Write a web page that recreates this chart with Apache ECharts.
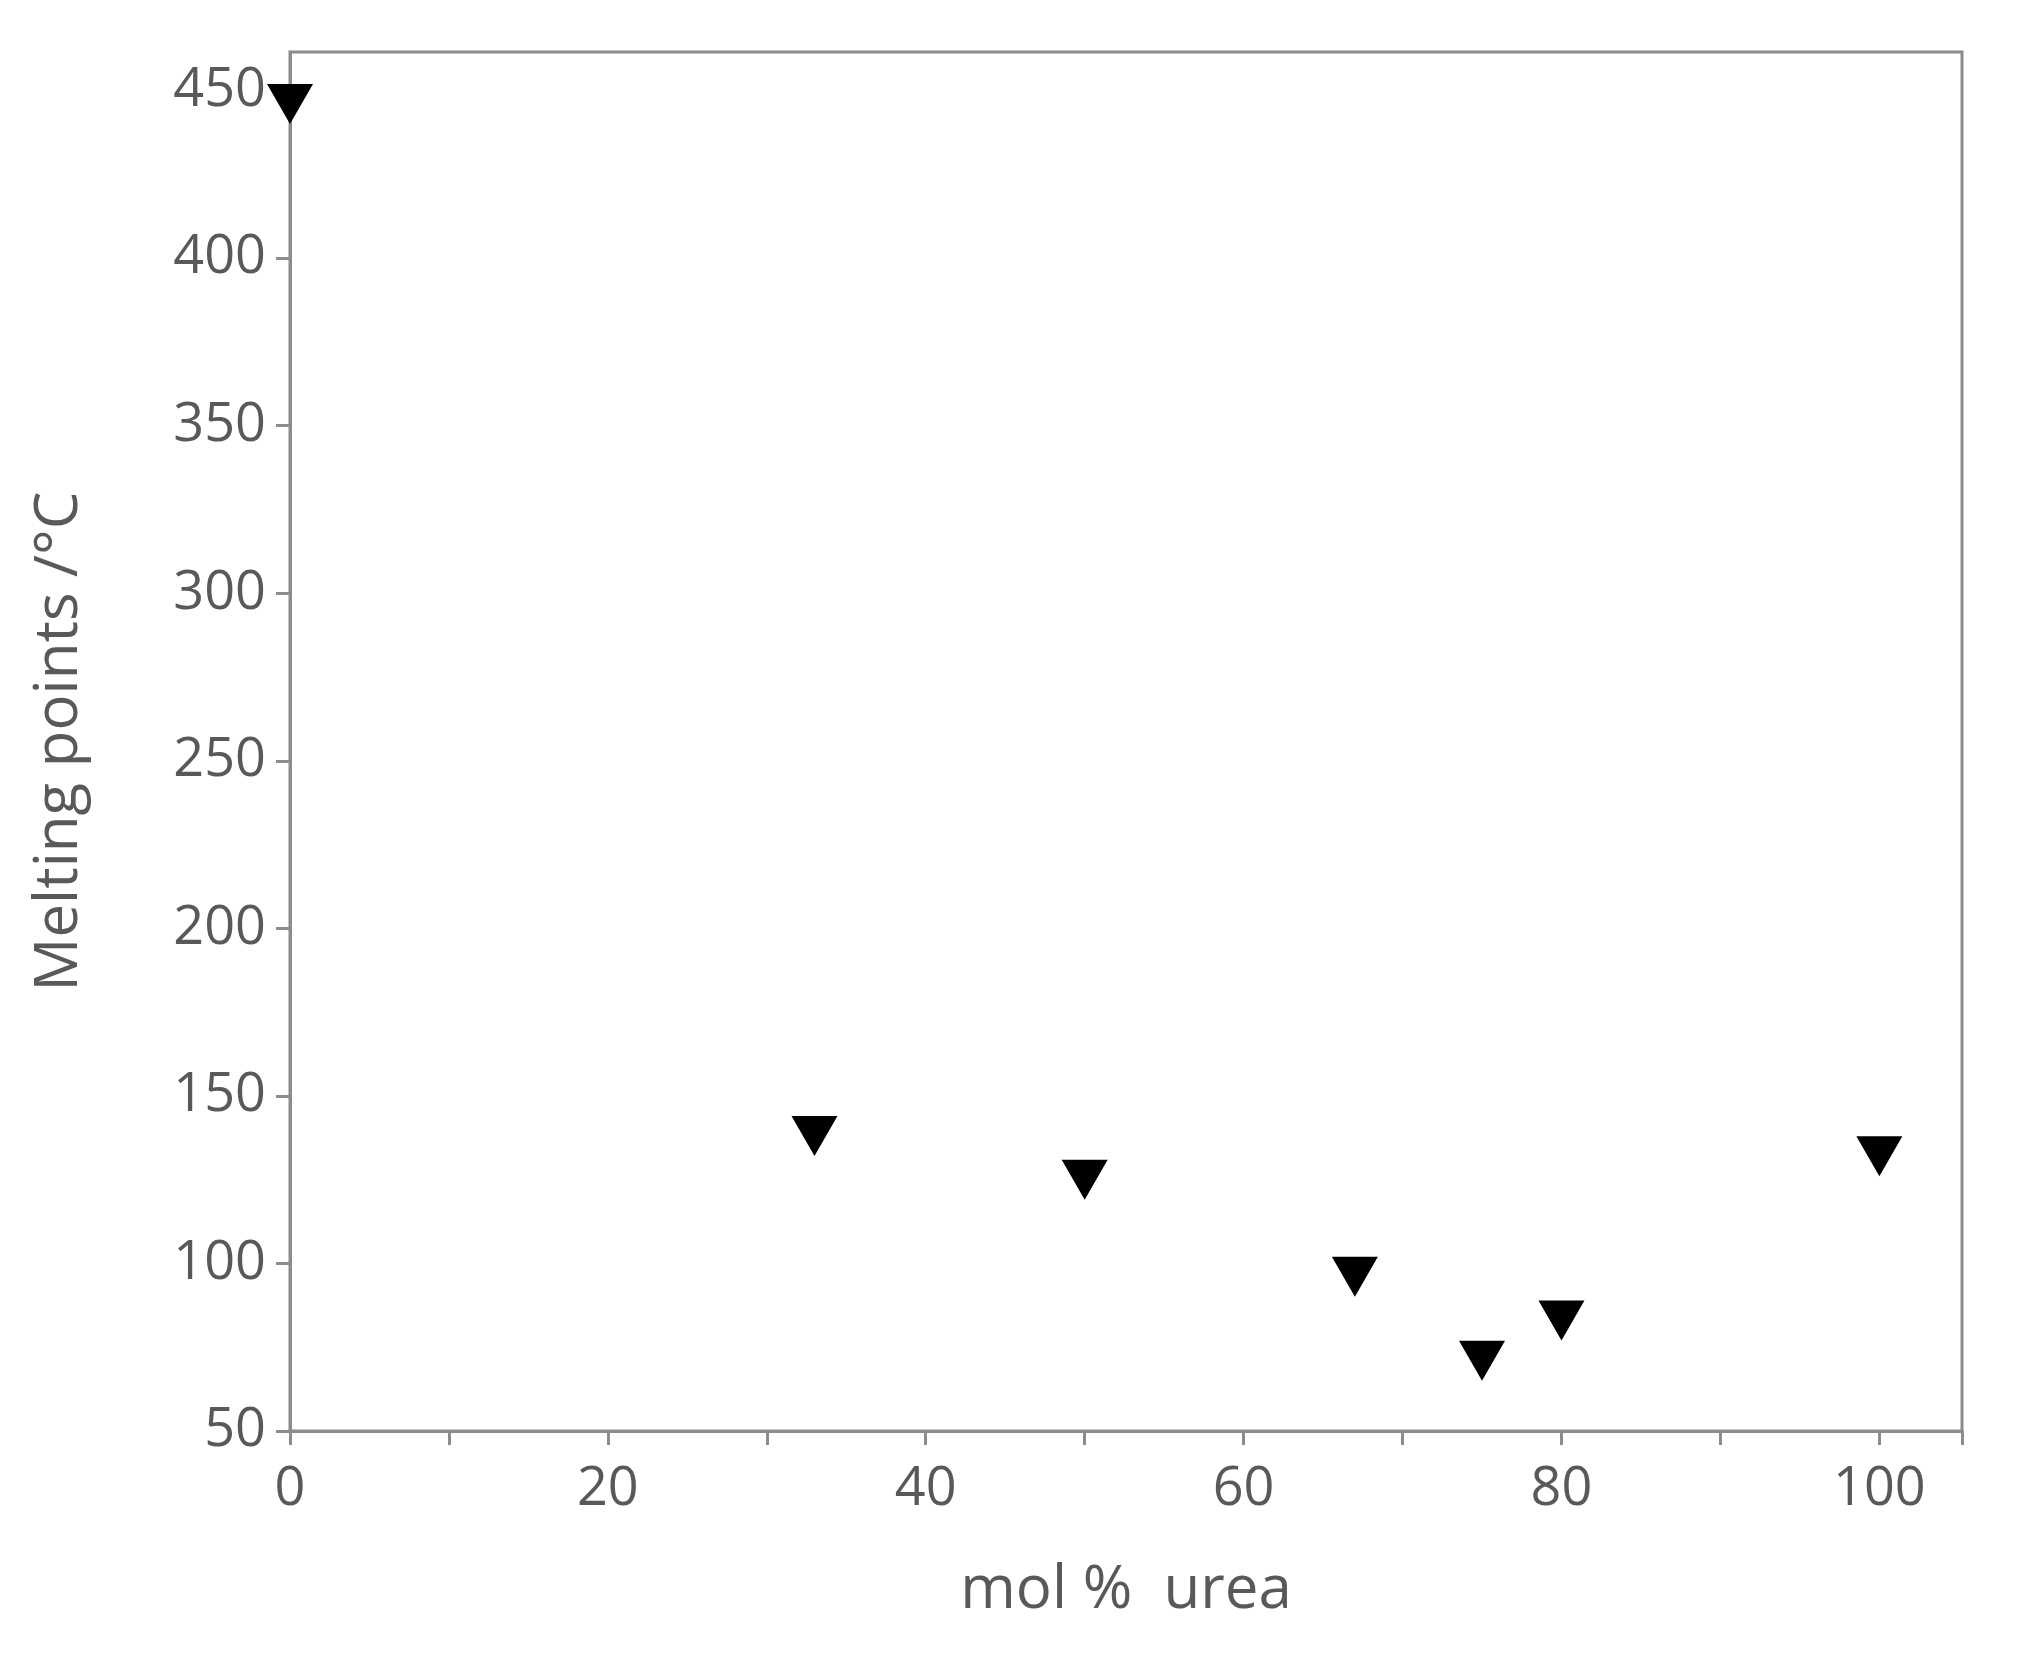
<!DOCTYPE html>
<html><head><meta charset="utf-8">
<script src="https://cdn.jsdelivr.net/npm/echarts@6/dist/echarts.min.js"></script>
<style>html,body{margin:0;background:#fff}#c{width:2019px;height:1665px}</style>
</head><body><div id="c"></div>
<script>
const molUrea = [0, 33, 50, 67, 75, 80, 100];
const meltingPoints = [446, 138, 125, 96, 71, 83, 132];
const chart = echarts.init(document.getElementById('c'));
const lab = {color:'#595959', fontSize:54, fontFamily:'Open Sans'};
chart.setOption({
  animation:false,
  grid:{left:290, right:57, top:52, bottom:234, show:true, borderColor:'#8c8c8c', borderWidth:3},
  xAxis:{type:'value', min:0, max:105.2, interval:20,
    name:'mol %  urea', nameLocation:'middle', nameGap:130, nameTextStyle:{...lab, fontSize:60},
    axisLine:{lineStyle:{color:'#8c8c8c', width:3}},
    axisTick:{length:14, lineStyle:{color:'#8c8c8c', width:3}},
    minorTick:{show:true, splitNumber:2, length:14, lineStyle:{color:'#8c8c8c', width:3}},
    axisLabel:{...lab, margin:32, showMaxLabel:false}, splitLine:{show:false}},
  yAxis:{type:'value', min:50, max:461.5, interval:50,
    name:'Melting points /°C', nameLocation:'middle', nameGap:200, nameTextStyle:{...lab, fontSize:60},
    axisLine:{show:true, lineStyle:{color:'#8c8c8c', width:3}},
    axisTick:{show:true, length:14, lineStyle:{color:'#8c8c8c', width:3}},
    axisLabel:{...lab, margin:24, showMaxLabel:false}, splitLine:{show:false}},
  series:[{type:'scatter', data:molUrea.map((x,i)=>[x,meltingPoints[i]]),
    symbol:'triangle', symbolRotate:180, symbolSize:[46,40], itemStyle:{color:'#000', opacity:1}}]
});
</script></body></html>
